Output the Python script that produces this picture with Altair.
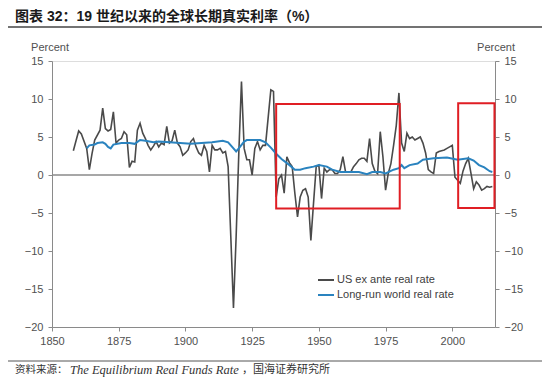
import altair as alt
import pandas as pd

# ---------------- data ----------------
us_years = [1858, 1859, 1860, 1861, 1863, 1864, 1865, 1866, 1868, 1869, 1870, 1871, 1872, 1873, 1874,
            1875, 1876, 1877, 1878, 1879, 1880, 1881, 1882, 1883, 1884, 1885, 1886, 1887, 1888, 1889,
            1890, 1891, 1892, 1893, 1894, 1895, 1896, 1897, 1898, 1899, 1900, 1901, 1902, 1903, 1904,
            1905, 1906, 1907, 1908, 1909, 1910, 1911, 1912, 1913, 1914, 1915, 1916, 1917, 1918, 1919,
            1920, 1921, 1922, 1923, 1924, 1925, 1926, 1927, 1928, 1929, 1930, 1932, 1933, 1934, 1935,
            1936, 1937, 1938, 1939, 1940, 1941, 1942, 1943, 1944, 1945, 1946, 1947, 1948, 1949, 1950,
            1951, 1952, 1953, 1954, 1955, 1956, 1957, 1958, 1959, 1960, 1961, 1962, 1963, 1964, 1965,
            1966, 1967, 1968, 1969, 1970, 1971, 1972, 1973, 1974, 1975, 1976, 1977, 1978, 1979, 1980,
            1981, 1982, 1983, 1984, 1985, 1986, 1987, 1988, 1989, 1990, 1991, 1992, 1993, 1994, 1995,
            1996, 1997, 1998, 1999, 2000, 2001, 2002, 2003, 2004, 2005, 2006, 2007, 2008, 2009, 2010,
            2011, 2012, 2013, 2014, 2015]
us_values = [3.2, 4.5, 5.8, 5.4, 3.5, 0.7, 2.8, 4.6, 5.9, 8.8, 6.1, 5.8, 6.0, 8.3, 4.2,
             4.6, 4.8, 5.7, 5.3, 1.0, 1.8, 1.7, 5.9, 6.8, 5.5, 4.8, 3.9, 3.3, 3.8, 4.4,
             3.7, 4.2, 4.0, 6.4, 4.2, 4.5, 5.9, 4.2, 3.7, 2.6, 2.9, 3.3, 4.4, 4.8, 3.7,
             2.9, 2.6, 3.9, 3.1, 0.4, 3.9, 3.3, 3.3, 3.5, 2.9, 3.1, 1.1, -8.1, -17.5, -8.1,
             2.9, 12.3, 3.5, 2.0, 2.0, 0.0, 3.5, 4.4, 3.3, 3.9, 3.9, 11.2, 11.0, -2.9, -0.5,
             0.0, -2.4, 2.4, 1.6, 1.1, -2.4, -5.5, -2.9, -2.0, -1.8, -2.9, -8.6, -3.7, 1.1, 1.3,
             -3.1, 0.9, 0.4, 0.7, 0.7, 0.2, 0.2, 0.7, 2.4, 0.4, 0.4, 0.4, 1.1, 1.5, 2.0,
             2.2, 2.2, 1.8, 4.8, 1.5, 0.5, 0.2, 5.7, 2.4, -2.0, 0.2, 1.5, 3.9, 6.5, 10.8,
             4.2, 3.1, 5.5, 4.8, 5.0, 4.6, 4.8, 5.0, 4.2, 2.9, 0.7, 0.4, 0.2, 2.9, 3.1,
             3.2, 3.3, 3.5, 3.7, 3.9, -0.3, -0.7, -1.1, 0.5, 1.5, 2.2, 0.2, -1.8, -0.9, -1.3,
             -2.0, -1.8, -1.5, -1.6, -1.5]

world_years = [1863, 1864, 1866, 1867, 1869, 1870, 1871, 1872, 1873, 1876, 1879, 1881, 1883, 1885,
               1888, 1890, 1894, 1898, 1902, 1906, 1910, 1914, 1916, 1918, 1919, 1920, 1922, 1923,
               1928, 1930, 1932, 1934, 1936, 1939, 1941, 1943, 1945, 1948, 1950, 1953, 1955, 1958,
               1962, 1965, 1968, 1970, 1973, 1975, 1978, 1980, 1981, 1982, 1984, 1987, 1989, 1993,
               1998, 2002, 2006, 2008, 2010, 2012, 2014, 2015]
world_values = [3.5, 3.9, 4.0, 4.2, 4.3, 4.1, 3.7, 3.5, 4.0, 4.2, 4.2, 4.1, 4.6, 4.5,
                4.3, 4.4, 4.3, 4.2, 4.1, 4.2, 4.3, 4.5, 4.3, 3.5, 3.1, 3.5, 4.4, 4.6,
                4.6, 4.3, 3.6, 2.8, 2.1, 1.3, 0.7, 0.7, 0.9, 1.1, 1.3, 1.1, 0.7, 0.4,
                0.4, 0.4, 0.1, 0.4, 0.4, 0.2, 0.7, 0.9, 1.3, 0.9, 1.3, 1.5, 2.0, 2.2,
                2.3, 2.0, 2.2, 1.9, 1.3, 1.0, 0.5, 0.4]

series_names = ["US ex ante real rate", "Long-run world real rate"]
series_colors = ["#4a4a4a", "#2a83bf"]

box_x0 = [1934.0, 2002.2]
box_x1 = [1980.3, 2015.8]
box_y0 = [-4.4, -4.35]
box_y1 = [9.35, 9.45]

x_ticks = [1850, 1875, 1900, 1925, 1950, 1975, 2000]
y_ticks = [-20, -15, -10, -5, 0, 5, 10, 15]
x_domain = [1850, 2016]
y_domain = [-20, 15]

title_text = "图表 32：19 世纪以来的全球长期真实利率（%）"
source_a = "资料来源："
source_b = "The Equilibrium Real Funds Rate"
source_c = "，国海证券研究所"
unit_text = "Percent"

# ---------------- tables ----------------
us_df = pd.DataFrame({"year": us_years, "value": us_values, "series": series_names[0]})
world_df = pd.DataFrame({"year": world_years, "value": world_values, "series": series_names[1]})
box_df = pd.DataFrame({"x0": box_x0, "x1": box_x1, "y0": box_y0, "y1": box_y1})
zero_df = pd.DataFrame({"value": [0]})

FONT = "Liberation Sans"
CJK = "Liberation Sans, Noto Sans CJK SC"
AX_COL = "#8a8a8a"
LAB_COL = "#505050"

xscale = alt.Scale(domain=x_domain, nice=False, zero=False)
yscale = alt.Scale(domain=y_domain, nice=False, zero=False)

x_axis = alt.Axis(values=x_ticks, format="d", title=None, grid=False, domainColor=AX_COL,
                  tickColor=AX_COL, tickSize=4, labelPadding=4, labelFontSize=11,
                  labelFont=FONT, labelColor=LAB_COL, labelFlush=False)


def y_axis(orient):
    return alt.Axis(orient=orient, values=y_ticks, title=None, grid=False, domainColor=AX_COL,
                    tickColor=AX_COL, tickSize=4, labelPadding=5, labelFontSize=11,
                    labelFont=FONT, labelColor=LAB_COL)


color_scale = alt.Scale(domain=series_names, range=series_colors)
legend = alt.Legend(title=None, orient="none", legendX=265, legendY=210, symbolType="stroke",
                    symbolSize=256, symbolStrokeWidth=2, labelFontSize=11, labelFont=FONT,
                    labelColor="#404040", labelOffset=2, rowPadding=1, padding=0)

zero_line = alt.Chart(zero_df).mark_rule(color=AX_COL, strokeWidth=1.5).encode(
    y=alt.Y("value:Q", scale=yscale, axis=y_axis("right"))
)

us_line = alt.Chart(us_df).mark_line(strokeWidth=1.6).encode(
    x=alt.X("year:Q", scale=xscale, axis=x_axis),
    y=alt.Y("value:Q", scale=yscale, axis=y_axis("left")),
    color=alt.Color("series:N", scale=color_scale, legend=legend),
)

world_line = alt.Chart(world_df).mark_line(strokeWidth=2).encode(
    x=alt.X("year:Q", scale=xscale),
    y=alt.Y("value:Q", scale=yscale, axis=None),
    color=alt.Color("series:N", scale=color_scale, legend=legend),
)

boxes = alt.Chart(box_df).mark_rect(fillOpacity=0, stroke="#e01e24", strokeWidth=2).encode(
    x=alt.X("x0:Q", scale=xscale),
    x2="x1:Q",
    y=alt.Y("y0:Q", scale=yscale, axis=None),
    y2="y1:Q",
)


def label(text, x, y, **kw):
    return alt.Chart(pd.DataFrame({"t": [text]})).mark_text(**kw).encode(
        text="t:N", x=alt.value(x), y=alt.value(y)
    )


title_mark = label(title_text, -37, -44, align="left", baseline="middle", font=CJK,
                   fontWeight="bold", fontSize=14, color="#1a1a1a")
src_a = label(source_a, -37, 309, align="left", baseline="middle", font=CJK, fontSize=10.5,
              color="#333333")
src_b = label(source_b, 18, 309, align="left", baseline="middle", font="Liberation Serif",
              fontStyle="italic", fontSize=12.5, color="#333333")
src_c = label(source_c, 190, 309, align="left", baseline="middle", font=CJK, fontSize=11,
              color="#333333")
unit_left = label(unit_text, -2, -13, align="center", baseline="middle", font=FONT,
                  fontSize=11, color=LAB_COL)
unit_right = label(unit_text, 444, -13, align="center", baseline="middle", font=FONT,
                   fontSize=11, color=LAB_COL)

rule_top = alt.Chart(pd.DataFrame({"a": [0]})).mark_rule(color="#444444", strokeWidth=1.3).encode(
    x=alt.value(-47), x2=alt.value(493), y=alt.value(-34)
)
rule_bottom = alt.Chart(pd.DataFrame({"a": [0]})).mark_rule(color="#555555", strokeWidth=1).encode(
    x=alt.value(-47), x2=alt.value(493), y=alt.value(300)
)

chart = alt.layer(
    zero_line, us_line, world_line, boxes,
    title_mark, src_a, src_b, src_c, unit_left, unit_right, rule_top, rule_bottom,
).resolve_axis(y="independent").properties(
    width=443, height=266,
    autosize=alt.AutoSizeParams(type="none"),
    padding={"left": 44, "top": 53, "right": 47, "bottom": 50},
).configure_view(stroke=None).configure(background="white")

chart.save("out.html", embed_options={"renderer": "svg", "actions": False})
